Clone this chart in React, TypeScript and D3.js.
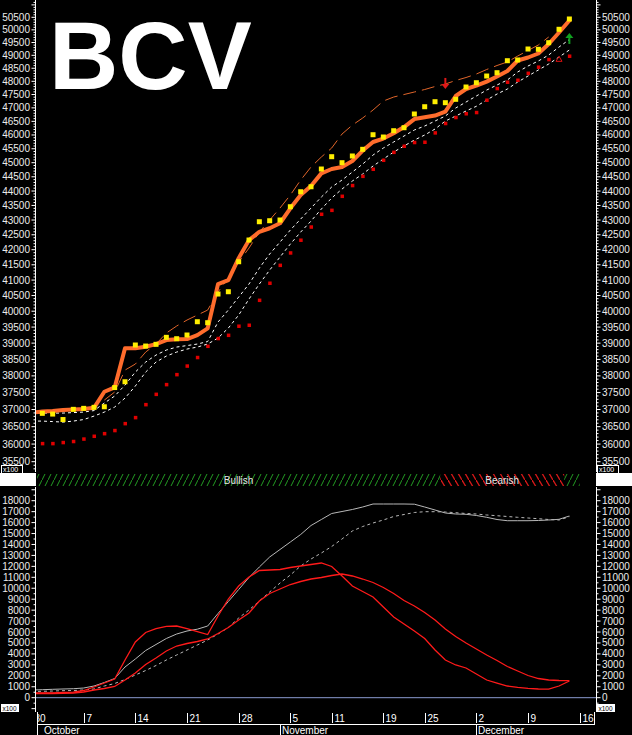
import React from "react";
import * as d3 from "d3";

// ---------- DATA ----------
const tradingDays = [
  "2013-09-30", "2013-10-01", "2013-10-02", "2013-10-03", "2013-10-04",
  "2013-10-07", "2013-10-08", "2013-10-09", "2013-10-10", "2013-10-11",
  "2013-10-14", "2013-10-15", "2013-10-16", "2013-10-17", "2013-10-18",
  "2013-10-21", "2013-10-22", "2013-10-23", "2013-10-24", "2013-10-25",
  "2013-10-28", "2013-10-29", "2013-10-30", "2013-10-31", "2013-11-01",
  "2013-11-05", "2013-11-06", "2013-11-07", "2013-11-08",
  "2013-11-11", "2013-11-12", "2013-11-13", "2013-11-14", "2013-11-15",
  "2013-11-19", "2013-11-20", "2013-11-21", "2013-11-22",
  "2013-11-25", "2013-11-26", "2013-11-27", "2013-11-28", "2013-11-29",
  "2013-12-02", "2013-12-03", "2013-12-04", "2013-12-05", "2013-12-06",
  "2013-12-09", "2013-12-10", "2013-12-11", "2013-12-12", "2013-12-13",
  "2013-12-16",
];

const axisTickDays = [
  "2013-09-30", "2013-10-07", "2013-10-14", "2013-10-21", "2013-10-28",
  "2013-11-05", "2013-11-11", "2013-11-19", "2013-11-25", "2013-12-02",
  "2013-12-09", "2013-12-16",
];

const monthNames = ["October", "November", "December"];
const monthStarts = ["2013-10-01", "2013-11-01", "2013-12-02"];

const closePrice = [
  36910, 36940, 36955, 36985, 37000, 37015, 37050, 37525, 37655, 38840,
  38840, 38890, 38970, 39095, 39120, 39125, 39250, 39460, 40870, 41000,
  41720, 42320, 42600, 42720, 42890, 43400, 43860, 44175, 44620, 44775,
  44845, 45060, 45435, 45745, 45870, 46065, 46290, 46585, 46650, 46716,
  46860, 47444, 47708, 47833, 47989, 48183, 48394, 48799, 48915, 49071,
  49442, 49895, 50372,
];

const openPrice = [
  36900, 36888, 36867, 36707, 37005, 37034, 37064, 37081, 37650, 37824,
  38942, 38910, 38963, 39180, 39137, 39252, 39668, 39637, 40549, 40623,
  41601, 42323, 42942, 42976, 43000, 43456, 43975, 44150, 44775, 45215,
  45000, 45240, 45480, 46010, 45926, 46156, 46266, 46772, 47043, 47230,
  47193, 47320, 47784, 47947, 48202, 48329, 48791, 48818, 49246, 49234,
  49493, 50022, 50432,
];

const fastAverage = [
  36896, 36896, 36896, 36896, 36910, 36925, 36969, 37190, 37397, 37725,
  38116, 38419, 38633, 38787, 38879, 38925, 38972, 39049, 39658, 40037,
  40452, 40872, 41393, 41856, 42255, 42660, 43034, 43411, 43791, 44140,
  44385, 44668, 44952, 45274, 45527, 45745, 45962, 46182, 46328, 46512,
  46697, 46994, 47218, 47444, 47670, 47860, 48050, 48356, 48586, 48780,
  49012, 49324, 49618,
];

const slowAverage = [
  36662, 36662, 36648, 36633, 36662, 36707, 36808, 36925, 37072, 37337,
  37695, 38116, 38419, 38602, 38725, 38817, 38879, 38972, 39158, 39469,
  39878, 40388, 40872, 41327, 41756, 42189, 42592, 42965, 43376, 43757,
  44070, 44350, 44598, 44881, 45131, 45382, 45599, 45816, 45999, 46218,
  46512, 46697, 46883, 47059, 47293, 47519, 47708, 47974, 48202, 48433,
  48664, 48934, 49207,
];

const trailingStop = [
  36020, 36020, 36020, 36050, 36080, 36150, 36230, 36305, 36395, 36595,
  36770, 37150, 37455, 37745, 38045, 38305, 38565, 38910, 39150, 39250,
  39535, 39565, 40355, 40905, 41490, 41900, 42325, 42770, 43205, 43340,
  43825, 44200, 44525, 44775, 45095, 45380, 45600, 45735, 45745, 46085,
  46430, 46650, 46790, 46835, 47295, 47735, 47975, 48050, 48315, 48550,
  48845, 48845, 48975,
];
const stopFlipDay = 51;

const upperChannel = [
  null, null, null, null, null, null, null, 37278, 37516, 38176,
  38358, 38725, 38972, 39313, 39533, 39721, 39878, 40037, 40612, 41066,
  41591, 42055, 42592, 43000, 43411, 43861, 44385, 44847, 45203, 45527,
  46035, 46362, 46623, 46920, 47256, 47406, 47500, 47595, 47689, 47803,
  47898, 48031, 48145, 48279, 48452, 48606, 48741, 48973, 49188, 49403,
  49717, null, null,
];

const signalDays = [40, 52];
const signalValues = [47900, 49680];
const signalDirections = ["down", "up"];

const trendState = [
  "bull", "bull", "bull", "bull", "bull", "bull", "bull", "bull", "bull", "bull",
  "bull", "bull", "bull", "bull", "bull", "bull", "bull", "bull", "bull", "bull",
  "bull", "bull", "bull", "bull", "bull", "bull", "bull", "bull", "bull", "bull",
  "bull", "bull", "bull", "bull", "bull", "bull", "bull", "bull", "bull", "bull",
  "bear", "bear", "bear", "bear", "bear", "bear", "bear", "bear", "bear", "bear",
  "bear", "bear", "bull",
];

const oscGraySolid = [
  704, 731, 767, 795, 822, 886, 1069, 1389, 1754, 2805,
  3536, 4313, 4861, 5409, 5820, 6094, 6259, 6551, 7693, 8790,
  9886, 10983, 11942, 12856, 13541, 14226, 14912, 15734, 16282, 16830,
  17013, 17196, 17424, 17698, 17698, 17698, 17698, 17680, 17424, 17150,
  16876, 16785, 16757, 16648, 16483, 16282, 16172, 16172, 16172, 16191,
  16236, 16300, 16602,
];

const oscGrayDashed = [
  566, 585, 612, 640, 658, 704, 795, 1069, 1297, 1663,
  2074, 2485, 2942, 3445, 3901, 4358, 4815, 5272, 5820, 6414,
  7282, 8013, 8835, 9658, 10480, 11211, 12034, 12673, 13221, 13815,
  14500, 15231, 15642, 15962, 16236, 16556, 16739, 16922, 16995, 16995,
  16967, 16903, 16831, 16785, 16693, 16629, 16556, 16483, 16419, 16355,
  16282, 16236, 16538,
];

const oscRedFast = [
  429, 429, 448, 475, 503, 658, 978, 1343, 1709, 3445,
  5089, 5957, 6305, 6524, 6551, 6305, 6030, 5774, 7465, 9018,
  10206, 11028, 11622, 11668, 11713, 11896, 12034, 12171, 12307, 11988,
  11120, 10206, 9703, 9201, 8287, 7373, 6734, 6094, 5409, 4358,
  3445, 2988, 2714, 2165, 1617, 1343, 1069, 950, 859, 795,
  777, 1069, 1526,
];

const oscRedSlow = [
  384, 384, 384, 402, 429, 521, 704, 841, 1023, 1617,
  2257, 3033, 3627, 4267, 4724, 4952, 5135, 5363, 5866, 6414,
  7100, 7739, 8835, 9521, 9932, 10343, 10617, 10845, 10983, 11165,
  11302, 11120, 10845, 10526, 10069, 9521, 8881, 8379, 7785, 7100,
  6277, 5592, 4998, 4450, 3901, 3399, 2851, 2440, 2028, 1754,
  1617, 1572, 1553,
];

// ---------- CHART ----------
const FONT = "'Liberation Sans', Arial, sans-serif";
const AXIS_COLOR = "#ffffff";
const LABEL_COLOR = "#ececec";

export default function App() {
  const W = 632;
  const H = 735;
  const plotL = 36;
  const plotR = 596;
  const topY0 = 0;
  const topY1 = 472;
  const botY0 = 487;
  const botY1 = 712;

  const x = d3.scaleLinear().domain([0, 53]).range([32, 579.7]);
  const yP = d3.scaleLog().domain([35500, 50500]).range([461.7, 17.3]);
  const yO = d3.scaleLinear().domain([0, 18000]).range([697.7, 500.7]);

  const dayIndex = (d: string) => tradingDays.indexOf(d);

  const mkLine = (scale: (v: number) => number) =>
    d3
      .line<number | null>()
      .defined((v) => v != null)
      .x((_, i) => x(i))
      .y((v) => scale(v as number));

  const priceLine = mkLine(yP);
  const oscLine = mkLine(yO);

  const priceTicks = d3.range(35300, 51200, 100);
  const oscTicks = d3.range(-1000, 19001, 500);

  const runs: { state: string; start: number; end: number }[] = [];
  trendState.forEach((s, i) => {
    const last = runs[runs.length - 1];
    if (last && last.state === s) last.end = i;
    else runs.push({ state: s, start: i, end: i });
  });

  const bandY = 474;
  const bandH = 12;

  return (
    <svg
      width={W}
      height={H}
      style={{ position: "absolute", left: 0, top: 0, background: "#000" }}
      fontFamily={FONT}
    >
      <defs>
        <clipPath id="topClip">
          <rect x={plotL} y={topY0} width={plotR - plotL} height={topY1 - topY0} />
        </clipPath>
        <clipPath id="botClip">
          <rect x={plotL} y={botY0} width={plotR - plotL} height={botY1 - botY0} />
        </clipPath>
        <clipPath id="dateClip">
          <rect x={37} y={botY1} width={558} height={H - botY1} />
        </clipPath>
        <pattern id="bullHatch" patternUnits="userSpaceOnUse" width="6" height="12">
          <line x1="0" y1="12" x2="6" y2="0" stroke="#229a22" strokeWidth="1" />
        </pattern>
        <pattern id="bearHatch" patternUnits="userSpaceOnUse" width="7" height="12">
          <line x1="0" y1="0" x2="7" y2="12" stroke="#d81818" strokeWidth="1.3" />
        </pattern>
      </defs>

      <rect x={0} y={0} width={W} height={H} fill="#000" />

      <text x={49} y={89} fontSize={96} fontWeight="bold" fill="#ffffff" fontFamily={FONT}>
        BCV
      </text>

      {/* ---- Top panel ---- */}
      <g clipPath="url(#topClip)">
        <path d={priceLine(slowAverage) || ""} fill="none" stroke="#ffffff" strokeWidth={1} strokeDasharray="3 3" />
        <path d={priceLine(fastAverage) || ""} fill="none" stroke="#ffffff" strokeWidth={1} strokeDasharray="3 3" />
        <path d={priceLine(upperChannel) || ""} fill="none" stroke="#e0652a" strokeWidth={1} strokeDasharray="13 6" />
        {trailingStop.map((v, i) =>
          i === stopFlipDay ? (
            <path
              key={i}
              d={`M${x(i)},${yP(v) - 3}L${x(i) + 3},${yP(v) + 2}L${x(i) - 3},${yP(v) + 2}Z`}
              fill="none"
              stroke="#e01010"
              strokeWidth={1}
            />
          ) : (
            <rect key={i} x={x(i) - 1.5} y={yP(v) - 1.5} width={3.5} height={3.5} fill="#e00000" />
          )
        )}
        <path
          d={priceLine(closePrice) || ""}
          fill="none"
          stroke="#ff6c2c"
          strokeWidth={4}
          strokeLinejoin="round"
          strokeLinecap="round"
        />
        {openPrice.map((v, i) => (
          <rect key={i} x={x(i) - 2.5} y={yP(v) - 2.5} width={5} height={5} fill="#ffee00" />
        ))}
        {signalDays.map((d, k) => {
          const cx = x(d);
          const cy = yP(signalValues[k]);
          const down = signalDirections[k] === "down";
          const color = down ? "#e01818" : "#10a020";
          return down ? (
            <g key={k}>
              <line x1={cx} y1={cy - 6} x2={cx} y2={cy + 1} stroke={color} strokeWidth={2} />
              <path d={`M${cx - 4},${cy}L${cx + 4},${cy}L${cx},${cy + 5}Z`} fill={color} />
            </g>
          ) : (
            <g key={k}>
              <line x1={cx} y1={cy + 6} x2={cx} y2={cy - 1} stroke={color} strokeWidth={2} />
              <path d={`M${cx - 4},${cy}L${cx + 4},${cy}L${cx},${cy - 5}Z`} fill={color} />
            </g>
          );
        })}
      </g>

      {/* Top axes */}
      <line x1={35.5} y1={topY0} x2={35.5} y2={topY1} stroke={AXIS_COLOR} />
      <line x1={596.5} y1={topY0} x2={596.5} y2={topY1} stroke={AXIS_COLOR} />
      {priceTicks.map((v) => {
        const y = yP(v);
        if (y < topY0 || y > topY1) return null;
        const major = v % 500 === 0;
        const len = major ? 4 : 2;
        return (
          <g key={v}>
            <line x1={35.5 - len} y1={y} x2={35.5} y2={y} stroke={AXIS_COLOR} />
            <line x1={596.5} y1={y} x2={596.5 + len} y2={y} stroke={AXIS_COLOR} />
            {major && y > 10 && y < 466 && (
              <>
                <text x={30} y={y} dy="0.35em" textAnchor="end" fontSize={10} fill={LABEL_COLOR}>
                  {v}
                </text>
                <text x={602} y={y} dy="0.35em" textAnchor="start" fontSize={10} fill={LABEL_COLOR}>
                  {v}
                </text>
              </>
            )}
          </g>
        );
      })}
      <rect x={1.5} y={465.5} width={21} height={8} fill="#000" stroke="#fff" />
      <text x={3} y={472} fontSize={7} fill="#fff">x100</text>
      <rect x={597.5} y={465.5} width={21} height={8} fill="#000" stroke="#fff" />
      <text x={599} y={472} fontSize={7} fill="#fff">x100</text>

      {/* Trend band */}
      <rect x={0} y={bandY - 1} width={36} height={bandH + 1} fill="#ffffff" />
      <rect x={596} y={bandY - 1} width={36} height={bandH + 1} fill="#ffffff" />
      {runs.map((r, k) => {
        const x0 = Math.max(37, x(r.start - 0.5));
        const x1 = k === runs.length - 1 ? x(r.end + 1) : x(r.end + 0.5);
        const bull = r.state === "bull";
        return (
          <g key={k}>
            <rect x={x0} y={bandY} width={x1 - x0} height={bandH} fill={bull ? "url(#bullHatch)" : "url(#bearHatch)"} />
            {r.end - r.start > 5 && (
              <text
                x={(x0 + x1) / 2}
                y={bandY + bandH / 2}
                dy="0.35em"
                textAnchor="middle"
                fontSize={10}
                fill="#e6e6e6"
              >
                {bull ? "Bullish" : "Bearish"}
              </text>
            )}
          </g>
        );
      })}

      {/* ---- Bottom panel ---- */}
      <g clipPath="url(#botClip)">
        <line x1={plotL} x2={plotR} y1={yO(0)} y2={yO(0)} stroke="#8b9bd0" strokeWidth={1} />
        <path d={oscLine(oscGrayDashed) || ""} fill="none" stroke="#b8b8b8" strokeWidth={1} strokeDasharray="3 3" />
        <path d={oscLine(oscGraySolid) || ""} fill="none" stroke="#b8b8b8" strokeWidth={1} />
        <path d={oscLine(oscRedSlow) || ""} fill="none" stroke="#ff1a1a" strokeWidth={1.3} />
        <path d={oscLine(oscRedFast) || ""} fill="none" stroke="#ff1a1a" strokeWidth={1.3} />
      </g>

      <line x1={35.5} y1={botY0} x2={35.5} y2={botY1} stroke={AXIS_COLOR} />
      <line x1={596.5} y1={botY0} x2={596.5} y2={botY1} stroke={AXIS_COLOR} />
      {oscTicks.map((v) => {
        const y = yO(v);
        if (y < botY0 || y > botY1) return null;
        const major = v % 1000 === 0;
        const len = major ? 4 : 2;
        return (
          <g key={v}>
            <line x1={35.5 - len} y1={y} x2={35.5} y2={y} stroke={AXIS_COLOR} />
            <line x1={596.5} y1={y} x2={596.5 + len} y2={y} stroke={AXIS_COLOR} />
            {major && v >= 0 && v <= 18000 && (
              <>
                <text x={30} y={y} dy="0.35em" textAnchor="end" fontSize={10} fill={LABEL_COLOR}>
                  {v}
                </text>
                <text x={602} y={y} dy="0.35em" textAnchor="start" fontSize={10} fill={LABEL_COLOR}>
                  {v}
                </text>
              </>
            )}
          </g>
        );
      })}
      <rect x={1.5} y={704.5} width={17} height={7} fill="#fff" stroke="#fff" />
      <text x={2.5} y={710.5} fontSize={6.5} fill="#000">x100</text>
      <rect x={597.5} y={704.5} width={17} height={7} fill="#fff" stroke="#fff" />
      <text x={598.5} y={710.5} fontSize={6.5} fill="#000">x100</text>

      {/* ---- Date axis ---- */}
      <line x1={37.5} y1={botY1} x2={37.5} y2={H} stroke="#fff" />
      <line x1={594.5} y1={botY1} x2={594.5} y2={724} stroke="#fff" />
      <line x1={37} y1={724.5} x2={595} y2={724.5} stroke="#fff" />
      <g clipPath="url(#dateClip)">
        {axisTickDays.map((d) => {
          const i = dayIndex(d);
          const px = Math.round(x(i)) + 0.5;
          return (
            <g key={d}>
              <line x1={px} y1={botY1 + 1} x2={px} y2={723} stroke="#fff" />
              <text x={px + 2} y={722} fontSize={10} fill="#fff">
                {String(+d.slice(8))}
              </text>
            </g>
          );
        })}
        {monthNames.map((m, k) => {
          const i = dayIndex(monthStarts[k]);
          const px = Math.round(x(i)) + 0.5;
          return (
            <g key={m}>
              {k > 0 && <line x1={px} y1={724} x2={px} y2={H} stroke="#fff" />}
              <text x={px + 1.5} y={733.5} fontSize={10} fill="#fff">
                {m}
              </text>
            </g>
          );
        })}
      </g>
    </svg>
  );
}
